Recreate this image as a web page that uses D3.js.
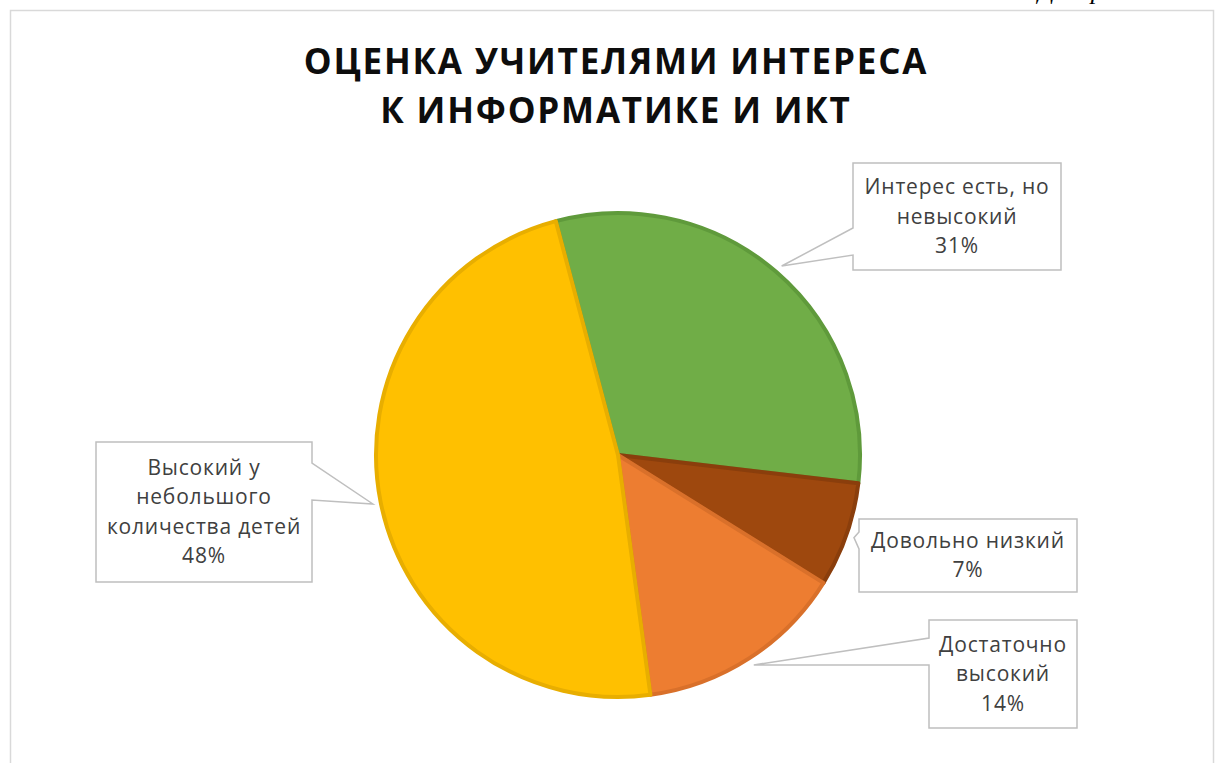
<!DOCTYPE html>
<html>
<head>
<meta charset="utf-8">
<script src="https://cdn.jsdelivr.net/npm/d3@7"></script>
<style>
  body { margin: 0; background: #fff; }
  svg { display: block; }
</style>
</head>
<body>
<div id="vis"></div>
<script>
// data
const categories = ['Интерес есть, но невысокий', 'Довольно низкий', 'Достаточно высокий', 'Высокий у небольшого количества детей'];
const values = [31, 7, 14, 48];
const labelLines = [
    ['Интерес есть, но', 'невысокий'],
    ['Довольно низкий'],
    ['Достаточно', 'высокий'],
    ['Высокий у', 'небольшого', 'количества детей']
];
const fillColors = ['#70ad47', '#9e480e', '#ed7d31', '#ffc000'];
const edgeColors = ['#5f9a3b', '#8a3e0c', '#d9702a', '#e8ae00'];
const titleLines = ['ОЦЕНКА УЧИТЕЛЯМИ ИНТЕРЕСА', 'К ИНФОРМАТИКЕ И ИКТ'];

let width = 1218;
let height = 763;

// callout boxes: x, y, w, h, side of pointer, pointer base y's
const boxes = [
    {x: 853, y: 163, w: 208, h: 107, side: 'left', b1: 228, b2: 255},
    {x: 859, y: 519, w: 218, h: 73, side: 'left', b1: 532, b2: 549},
    {x: 929, y: 620, w: 148, h: 108, side: 'left', b1: 638, b2: 665},
    {x: 96, y: 442, w: 216, h: 140, side: 'right', b1: 463, b2: 500}
];

const svg = d3.select('#vis')
    .append('svg')
    .attr('width', width)
    .attr('height', height);

// caption line above the frame, cut off by the page top as in the source
svg.append('text')
    .attr('x', 1038)
    .attr('y', -1)
    .attr('font-family', 'Liberation Serif')
    .attr('font-style', 'italic')
    .attr('font-size', 26)
    .attr('fill', '#000')
    .text('Диаграмма');

// chart frame
svg.append('rect')
    .attr('x', 10.5)
    .attr('y', 10.5)
    .attr('width', 1203)
    .attr('height', 770)
    .attr('fill', '#fff')
    .attr('stroke', '#d9d9d9')
    .attr('stroke-width', 1.5);

// title
svg.append('g')
    .selectAll('text')
    .data(titleLines)
    .join('text')
    .attr('x', 616)
    .attr('y', (d, i) => 74 + i * 49)
    .attr('text-anchor', 'middle')
    .attr('font-family', 'Open Sans')
    .attr('font-weight', 'bold')
    .attr('font-size', 35)
    .attr('letter-spacing', 1.8)
    .attr('fill', '#0d0d0d')
    .text(d => d);

const cx = 618, cy = 455, radius = 242;

const pie = d3.pie()
    .sort(null)
    .startAngle(-14.9 * Math.PI / 180)
    .endAngle(345.1 * Math.PI / 180);

const arcs = pie(values);

const arc = d3.arc()
    .innerRadius(0)
    .outerRadius(radius);

const tipArc = d3.arc()
    .innerRadius(radius + 8)
    .outerRadius(radius + 8);

const bounds = svg.append('g')
    .attr('transform', `translate(${cx},${cy})`);

bounds.selectAll('path')
    .data(arcs)
    .join('path')
    .attr('d', arc)
    .attr('fill', (d, i) => fillColors[i])
    .attr('stroke', (d, i) => edgeColors[i])
    .attr('stroke-width', 4)
    .attr('stroke-linejoin', 'round');

// callouts
function calloutPath(b, tip) {
    const tx = tip[0] + cx, ty = tip[1] + cy;
    if (b.side === 'left') {
        return `M${b.x},${b.y}H${b.x + b.w}V${b.y + b.h}H${b.x}V${b.b2}L${tx},${ty}L${b.x},${b.b1}Z`;
    }
    return `M${b.x},${b.y}H${b.x + b.w}V${b.b1}L${tx},${ty}L${b.x + b.w},${b.b2}V${b.y + b.h}H${b.x}Z`;
}

const labels = svg.append('g')
    .selectAll('g')
    .data(arcs)
    .join('g');

labels.append('path')
    .attr('d', (d, i) => calloutPath(boxes[i], tipArc.centroid(d)))
    .attr('fill', '#fff')
    .attr('stroke', '#bfbfbf')
    .attr('stroke-width', 1.5);

labels.each(function(d, i) {
    const b = boxes[i];
    const lines = labelLines[i].concat([values[i] + '%']);
    const lineH = 29.5;
    const top = b.y + b.h / 2 - (lines.length - 1) * lineH / 2;
    d3.select(this).selectAll('text')
        .data(lines)
        .join('text')
        .attr('x', b.x + b.w / 2)
        .attr('y', (t, j) => top + j * lineH + 7)
        .attr('text-anchor', 'middle')
        .attr('font-family', 'Open Sans')
        .attr('font-size', 21)
        .attr('letter-spacing', 0.8)
        .attr('fill', '#404040')
        .text(t => t);
});
</script>
</body>
</html>
